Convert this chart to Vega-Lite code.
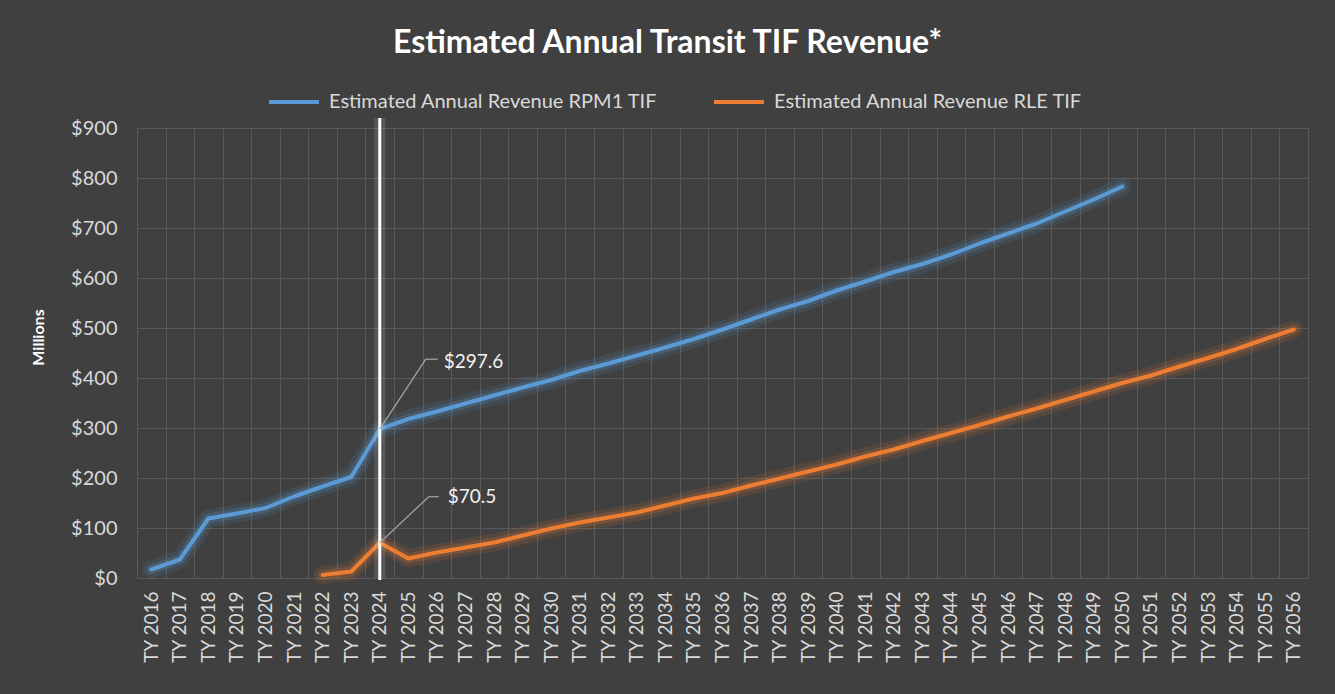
{
  "$schema": "https://vega.github.io/schema/vega-lite/v6.json",
  "width": 1171,
  "height": 450,
  "autosize": {"type": "none"},
  "padding": {"left": 137, "top": 128, "right": 27, "bottom": 116},
  "background": "#404040",
  "config": {
    "font": "Lato",
    "view": {"stroke": "#595959", "strokeWidth": 1},
    "axis": {"gridColor": "#595959", "gridWidth": 1, "domain": false, "ticks": false, "labelColor": "#d9d9d9", "labelFont": "Lato", "labelFontSize": 19}
  },
  "title": {"text": "Estimated Annual Transit TIF Revenue*", "fontSize": 32, "fontWeight": "bold", "color": "#ffffff", "font": "Lato", "anchor": "middle", "frame": "group", "dx": -55, "offset": 15},
  "data": {"values": [
    {"year": "TY 2016", "s": "Estimated Annual Revenue RPM1 TIF", "v": 17},
    {"year": "TY 2017", "s": "Estimated Annual Revenue RPM1 TIF", "v": 37},
    {"year": "TY 2018", "s": "Estimated Annual Revenue RPM1 TIF", "v": 119},
    {"year": "TY 2019", "s": "Estimated Annual Revenue RPM1 TIF", "v": 129},
    {"year": "TY 2020", "s": "Estimated Annual Revenue RPM1 TIF", "v": 140},
    {"year": "TY 2021", "s": "Estimated Annual Revenue RPM1 TIF", "v": 163},
    {"year": "TY 2022", "s": "Estimated Annual Revenue RPM1 TIF", "v": 183},
    {"year": "TY 2023", "s": "Estimated Annual Revenue RPM1 TIF", "v": 202},
    {"year": "TY 2024", "s": "Estimated Annual Revenue RPM1 TIF", "v": 297.6},
    {"year": "TY 2025", "s": "Estimated Annual Revenue RPM1 TIF", "v": 318},
    {"year": "TY 2026", "s": "Estimated Annual Revenue RPM1 TIF", "v": 333},
    {"year": "TY 2027", "s": "Estimated Annual Revenue RPM1 TIF", "v": 349},
    {"year": "TY 2028", "s": "Estimated Annual Revenue RPM1 TIF", "v": 365},
    {"year": "TY 2029", "s": "Estimated Annual Revenue RPM1 TIF", "v": 381},
    {"year": "TY 2030", "s": "Estimated Annual Revenue RPM1 TIF", "v": 396},
    {"year": "TY 2031", "s": "Estimated Annual Revenue RPM1 TIF", "v": 414},
    {"year": "TY 2032", "s": "Estimated Annual Revenue RPM1 TIF", "v": 429},
    {"year": "TY 2033", "s": "Estimated Annual Revenue RPM1 TIF", "v": 445},
    {"year": "TY 2034", "s": "Estimated Annual Revenue RPM1 TIF", "v": 461},
    {"year": "TY 2035", "s": "Estimated Annual Revenue RPM1 TIF", "v": 478},
    {"year": "TY 2036", "s": "Estimated Annual Revenue RPM1 TIF", "v": 497},
    {"year": "TY 2037", "s": "Estimated Annual Revenue RPM1 TIF", "v": 517},
    {"year": "TY 2038", "s": "Estimated Annual Revenue RPM1 TIF", "v": 537},
    {"year": "TY 2039", "s": "Estimated Annual Revenue RPM1 TIF", "v": 554},
    {"year": "TY 2040", "s": "Estimated Annual Revenue RPM1 TIF", "v": 575},
    {"year": "TY 2041", "s": "Estimated Annual Revenue RPM1 TIF", "v": 593},
    {"year": "TY 2042", "s": "Estimated Annual Revenue RPM1 TIF", "v": 612},
    {"year": "TY 2043", "s": "Estimated Annual Revenue RPM1 TIF", "v": 628},
    {"year": "TY 2044", "s": "Estimated Annual Revenue RPM1 TIF", "v": 647},
    {"year": "TY 2045", "s": "Estimated Annual Revenue RPM1 TIF", "v": 669},
    {"year": "TY 2046", "s": "Estimated Annual Revenue RPM1 TIF", "v": 689},
    {"year": "TY 2047", "s": "Estimated Annual Revenue RPM1 TIF", "v": 709},
    {"year": "TY 2048", "s": "Estimated Annual Revenue RPM1 TIF", "v": 733},
    {"year": "TY 2049", "s": "Estimated Annual Revenue RPM1 TIF", "v": 757},
    {"year": "TY 2050", "s": "Estimated Annual Revenue RPM1 TIF", "v": 783},
    {"year": "TY 2022", "s": "Estimated Annual Revenue RLE TIF", "v": 6},
    {"year": "TY 2023", "s": "Estimated Annual Revenue RLE TIF", "v": 13},
    {"year": "TY 2024", "s": "Estimated Annual Revenue RLE TIF", "v": 70.5},
    {"year": "TY 2025", "s": "Estimated Annual Revenue RLE TIF", "v": 39},
    {"year": "TY 2026", "s": "Estimated Annual Revenue RLE TIF", "v": 51},
    {"year": "TY 2027", "s": "Estimated Annual Revenue RLE TIF", "v": 61},
    {"year": "TY 2028", "s": "Estimated Annual Revenue RLE TIF", "v": 71},
    {"year": "TY 2029", "s": "Estimated Annual Revenue RLE TIF", "v": 85},
    {"year": "TY 2030", "s": "Estimated Annual Revenue RLE TIF", "v": 99},
    {"year": "TY 2031", "s": "Estimated Annual Revenue RLE TIF", "v": 111},
    {"year": "TY 2032", "s": "Estimated Annual Revenue RLE TIF", "v": 121},
    {"year": "TY 2033", "s": "Estimated Annual Revenue RLE TIF", "v": 131},
    {"year": "TY 2034", "s": "Estimated Annual Revenue RLE TIF", "v": 145},
    {"year": "TY 2035", "s": "Estimated Annual Revenue RLE TIF", "v": 159},
    {"year": "TY 2036", "s": "Estimated Annual Revenue RLE TIF", "v": 170},
    {"year": "TY 2037", "s": "Estimated Annual Revenue RLE TIF", "v": 185},
    {"year": "TY 2038", "s": "Estimated Annual Revenue RLE TIF", "v": 199},
    {"year": "TY 2039", "s": "Estimated Annual Revenue RLE TIF", "v": 213},
    {"year": "TY 2040", "s": "Estimated Annual Revenue RLE TIF", "v": 227},
    {"year": "TY 2041", "s": "Estimated Annual Revenue RLE TIF", "v": 243},
    {"year": "TY 2042", "s": "Estimated Annual Revenue RLE TIF", "v": 257},
    {"year": "TY 2043", "s": "Estimated Annual Revenue RLE TIF", "v": 274},
    {"year": "TY 2044", "s": "Estimated Annual Revenue RLE TIF", "v": 290},
    {"year": "TY 2045", "s": "Estimated Annual Revenue RLE TIF", "v": 306},
    {"year": "TY 2046", "s": "Estimated Annual Revenue RLE TIF", "v": 323},
    {"year": "TY 2047", "s": "Estimated Annual Revenue RLE TIF", "v": 339},
    {"year": "TY 2048", "s": "Estimated Annual Revenue RLE TIF", "v": 356},
    {"year": "TY 2049", "s": "Estimated Annual Revenue RLE TIF", "v": 373},
    {"year": "TY 2050", "s": "Estimated Annual Revenue RLE TIF", "v": 390},
    {"year": "TY 2051", "s": "Estimated Annual Revenue RLE TIF", "v": 405},
    {"year": "TY 2052", "s": "Estimated Annual Revenue RLE TIF", "v": 423},
    {"year": "TY 2053", "s": "Estimated Annual Revenue RLE TIF", "v": 440},
    {"year": "TY 2054", "s": "Estimated Annual Revenue RLE TIF", "v": 458},
    {"year": "TY 2055", "s": "Estimated Annual Revenue RLE TIF", "v": 478},
    {"year": "TY 2056", "s": "Estimated Annual Revenue RLE TIF", "v": 497}
  ]},
  "encoding": {
    "x": {
      "field": "year", "type": "ordinal",
      "scale": {"type": "point", "padding": 0.5},
      "axis": {"title": null, "labelAngle": -90, "tickOffset": 14.28, "labelOffset": -14.28, "labelPadding": 13, "grid": true, "labelOverlap": false, "labelAlign": "right", "labelBaseline": "middle"}
    },
    "y": {
      "field": "v", "type": "quantitative",
      "scale": {"domain": [0, 900], "nice": false},
      "axis": {"title": "Millions", "values": [0, 100, 200, 300, 400, 500, 600, 700, 800, 900], "format": "$,.0f", "labelPadding": 20, "labelFontSize": 20, "grid": true, "titleFontSize": 16, "titleFontWeight": "bold", "titleColor": "#ffffff", "titleFont": "Lato", "titleX": -99, "titleY": 209, "titleAngle": -90, "titleAlign": "center", "titleBaseline": "middle"}
    }
  },
  "layer": [
    {
      "transform": [{"filter": "datum.s == 'Estimated Annual Revenue RPM1 TIF'"}],
      "mark": {"type": "line", "color": "#5B9BD5", "strokeWidth": 18, "opacity": 0.12, "strokeCap": "round", "strokeJoin": "round"}
    },
    {
      "transform": [{"filter": "datum.s == 'Estimated Annual Revenue RPM1 TIF'"}],
      "mark": {"type": "line", "color": "#5B9BD5", "strokeWidth": 10, "opacity": 0.2, "strokeCap": "round", "strokeJoin": "round"}
    },
    {
      "transform": [{"filter": "datum.s == 'Estimated Annual Revenue RLE TIF'"}],
      "mark": {"type": "line", "color": "#ED7D31", "strokeWidth": 18, "opacity": 0.12, "strokeCap": "round", "strokeJoin": "round"}
    },
    {
      "transform": [{"filter": "datum.s == 'Estimated Annual Revenue RLE TIF'"}],
      "mark": {"type": "line", "color": "#ED7D31", "strokeWidth": 10, "opacity": 0.2, "strokeCap": "round", "strokeJoin": "round"}
    },
    {
      "mark": {"type": "line", "strokeWidth": 4, "strokeCap": "round", "strokeJoin": "round"},
      "encoding": {"color": {"field": "s", "type": "nominal", "scale": {"domain": ["Estimated Annual Revenue RPM1 TIF", "Estimated Annual Revenue RLE TIF"], "range": ["#5B9BD5", "#ED7D31"]}, "legend": {"title": null, "orient": "none", "legendX": 130, "legendY": -53, "direction": "horizontal", "columns": 2, "symbolType": "stroke", "symbolSize": 2500, "symbolStrokeWidth": 4, "symbolOpacity": 1, "labelFontSize": 20, "labelFont": "Lato", "labelColor": "#d9d9d9", "labelLimit": 0, "columnPadding": 48, "labelOffset": 8}}}
    },
    {
      "transform": [{"filter": "datum.year == 'TY 2024' && datum.s == 'Estimated Annual Revenue RPM1 TIF'"}],
      "mark": {"type": "rule", "color": "#ffffff", "strokeWidth": 11, "opacity": 0.12},
      "encoding": {"x": {"field": "year", "type": "ordinal"}, "y": {"datum": 0}, "y2": {"datum": 920}}
    },
    {
      "transform": [{"filter": "datum.year == 'TY 2024' && datum.s == 'Estimated Annual Revenue RPM1 TIF'"}],
      "mark": {"type": "rule", "color": "#ffffff", "strokeWidth": 3},
      "encoding": {"x": {"field": "year", "type": "ordinal"}, "y": {"datum": -4}, "y2": {"datum": 920}}
    },
    {
      "transform": [{"filter": "datum.year == 'TY 2024' && datum.s == 'Estimated Annual Revenue RPM1 TIF'"}],
      "mark": {"type": "rule", "color": "#a6a6a6", "strokeWidth": 1.2, "x2Offset": 46, "y2Offset": -70},
      "encoding": {"x2": {"field": "year"}, "y2": {"field": "v"}}
    },
    {
      "transform": [{"filter": "datum.year == 'TY 2024' && datum.s == 'Estimated Annual Revenue RPM1 TIF'"}],
      "mark": {"type": "rule", "color": "#a6a6a6", "strokeWidth": 1.2, "xOffset": 46, "yOffset": -70, "x2Offset": 58, "y2Offset": -70},
      "encoding": {"x2": {"field": "year"}, "y2": {"field": "v"}}
    },
    {
      "transform": [{"filter": "datum.year == 'TY 2024' && datum.s == 'Estimated Annual Revenue RPM1 TIF'"}],
      "mark": {"type": "text", "align": "left", "baseline": "middle", "dx": 64, "dy": -67, "fontSize": 19, "font": "Lato", "color": "#f2f2f2"},
      "encoding": {"text": {"field": "v", "type": "quantitative", "format": "$.1f"}}
    },
    {
      "transform": [{"filter": "datum.year == 'TY 2024' && datum.s == 'Estimated Annual Revenue RLE TIF'"}],
      "mark": {"type": "rule", "color": "#a6a6a6", "strokeWidth": 1.2, "x2Offset": 49, "y2Offset": -46},
      "encoding": {"x2": {"field": "year"}, "y2": {"field": "v"}}
    },
    {
      "transform": [{"filter": "datum.year == 'TY 2024' && datum.s == 'Estimated Annual Revenue RLE TIF'"}],
      "mark": {"type": "rule", "color": "#a6a6a6", "strokeWidth": 1.2, "xOffset": 49, "yOffset": -46, "x2Offset": 59, "y2Offset": -46},
      "encoding": {"x2": {"field": "year"}, "y2": {"field": "v"}}
    },
    {
      "transform": [{"filter": "datum.year == 'TY 2024' && datum.s == 'Estimated Annual Revenue RLE TIF'"}],
      "mark": {"type": "text", "align": "left", "baseline": "middle", "dx": 68, "dy": -46, "fontSize": 19, "font": "Lato", "color": "#f2f2f2"},
      "encoding": {"text": {"field": "v", "type": "quantitative", "format": "$.1f"}}
    }
  ]
}
